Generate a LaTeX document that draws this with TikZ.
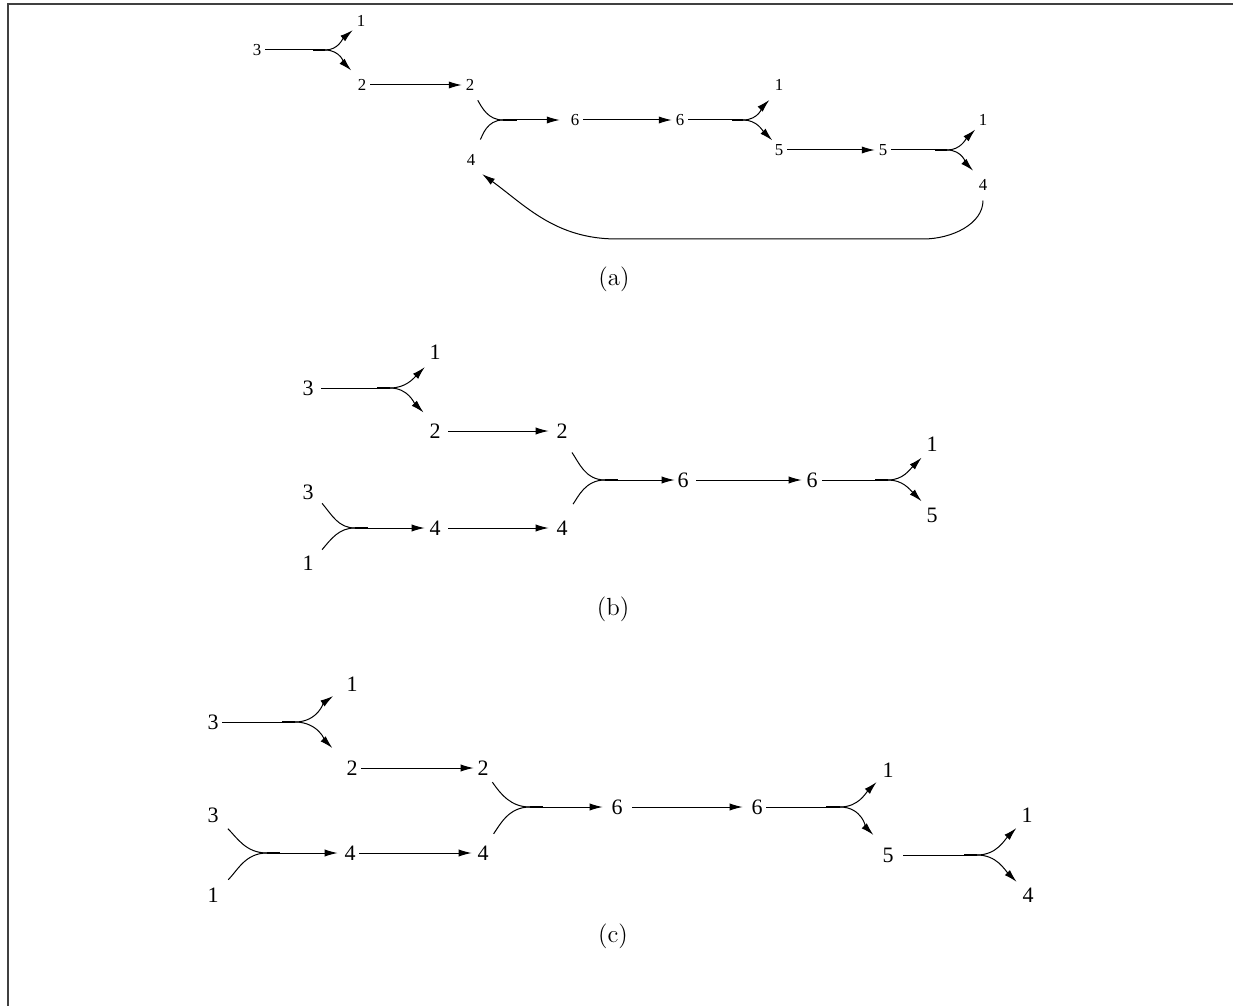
\documentclass[tikz,border=0pt]{standalone}
\usepackage{fontspec}
\newfontfamily\tnr{Liberation Serif}
\usetikzlibrary{arrows.meta}
\begin{document}
\begin{tikzpicture}[x=0.5pt,y=0.5pt,
  lab/.style={font=\tnr\fontsize{8.4}{10}\selectfont, inner sep=1.8pt},
  labB/.style={font=\tnr\fontsize{11}{13}\selectfont, inner sep=3.7pt},
  labC/.style={font=\tnr\fontsize{11}{13}\selectfont, inner sep=1.7pt},
  ln/.style={line width=0.5pt},
  stem/.style={line width=0.85pt},
  arr/.style={ln,-{Latex[length=6.5pt,width=3.6pt]}},
  captxt/.style={font=\fontsize{12.4}{14}\selectfont, inner sep=0pt}]
\useasboundingbox (0,0) rectangle (1233,-1006);
\draw[line width=1pt, black!75] (7.5,-1006) -- (7.5,-4.5) -- (1233,-4.5);

% ---------------- (a)
\node[lab] (a3) at (257,-50) {3};
\node[lab] (a1) at (361,-21) {1};
\node[lab] (a2) at (362,-85) {2};
\node[lab] (a2b) at (470,-85) {2};
\node[lab] (a4) at (471,-160) {4};
\node[lab] (a6) at (575,-120) {6};
\node[lab] (a6b) at (680,-120) {6};
\node[lab] (a1b) at (779,-85) {1};
\node[lab] (a5) at (779,-150) {5};
\node[lab] (a5b) at (883,-150) {5};
\node[lab] (a1c) at (983,-120) {1};
\node[lab] (a4b) at (983,-185) {4};
\coordinate (af1) at (325,-50);
\coordinate (am) at (503,-120);
\coordinate (af2) at (743,-120);
\coordinate (af3) at (947,-150);
\coordinate (aL) at (617,-239);
\coordinate (aR) at (923,-239);

\draw[ln] (a3) -- (af1);
\draw[stem] (af1) -- ++(-12,0);
\draw[arr] (af1) to[out=0,in=220] (a1.228);
\draw[arr, shorten >=3.5pt] (af1) to[out=0,in=135] (a2.121);
\draw[arr] (a2) -- (a2b);
\draw[ln, shorten <=3.3pt] (a2b.-65) to[out=-60,in=180] (am);
\draw[ln, shorten <=6.3pt] (a4.72) to[out=60,in=180] (am);
\draw[stem] (am) -- ++(14,0);
\draw[arr, shorten >=3.5pt] (am) -- (a6);
\draw[arr] (a6) -- (a6b);
\draw[ln] (a6b) -- (af2);
\draw[stem] (af2) -- ++(-11,0);
\draw[arr, shorten >=3.8pt] (af2) to[out=0,in=225] (a1b.246);
\draw[arr] (af2) to[out=0,in=135] (a5.125);
\draw[arr] (a5) -- (a5b);
\draw[ln] (a5b) -- (af3);
\draw[stem] (af3) -- ++(-12,0);
\draw[arr] (af3) to[out=0,in=225] (a1c.231);
\draw[arr, shorten >=3.4pt] (af3) to[out=0,in=135] (a4b.118);
\draw[arr, shorten <=3pt, shorten >=3.9pt] (a4b.south) to[out=-90,in=0] (aR) -- (aL) to[out=180,in=-36] (a4.-63);
\node[captxt] (capa) at (614,-279) {(a)};

% ---------------- (b)
\node[labB] (b3) at (308,-388) {3};
\node[labB] (b1) at (435,-352) {1};
\node[labB] (b2) at (435,-431) {2};
\node[labB] (b2b) at (562,-431) {2};
\node[labB] (b3l) at (308,-492) {3};
\node[labB] (b1l) at (308,-563) {1};
\node[labB] (b4) at (435,-528) {4};
\node[labB] (b4b) at (562,-528) {4};
\node[labB] (b6) at (683,-480) {6};
\node[labB] (b6b) at (812,-480) {6};
\node[labB] (b1b) at (932,-444) {1};
\node[labB] (b5) at (932,-515) {5};
\coordinate (bf1) at (390,-388);
\coordinate (bm2) at (355,-528);
\coordinate (bm) at (605,-480);
\coordinate (bf2) at (888,-480);

\draw[ln] (b3) -- (bf1);
\draw[stem] (bf1) -- ++(-13,0);
\draw[arr] (bf1) to[out=0,in=225] (b1.236);
\draw[arr, shorten >=2.4pt] (bf1) to[out=0,in=135] (b2.118);
\draw[arr] (b2) -- (b2b);
\draw[ln, shorten <=0.6pt] (b3l.-38) to[out=-50,in=180] (bm2);
\draw[ln, shorten <=0.6pt] (b1l.43) to[out=50,in=180] (bm2);
\draw[stem] (bm2) -- ++(13,0);
\draw[arr, shorten >=-1.5pt] (bm2) -- (b4);
\draw[arr] (b4) -- (b4b);
\draw[ln, shorten <=3.9pt] (b2b.-70) to[out=-55,in=180] (bm);
\draw[ln, shorten <=5.4pt] (b4b.72) to[out=55,in=180] (bm);
\draw[stem] (bm) -- ++(13,0);
\draw[arr, shorten >=-2.5pt] (bm) -- (b6);
\draw[arr, shorten >=-1.5pt] (b6) -- (b6b);
\draw[ln, shorten <=-1.5pt] (b6b) -- (bf2);
\draw[stem] (bf2) -- ++(-13,0);
\draw[arr, shorten >=-1pt] (bf2) to[out=0,in=225] (b1b.232);
\draw[arr, shorten >=-1pt] (bf2) to[out=0,in=135] (b5.128);
\node[captxt] (capb) at (613,-609) {(b)};

% ---------------- (c)
\node[labC] (c3) at (213,-722) {3};
\node[labC] (c1) at (352,-684) {1};
\node[labC] (c2) at (352,-768) {2};
\node[labC] (c2b) at (483,-768) {2};
\node[labC] (c3l) at (213,-815) {3};
\node[labC] (c1l) at (213,-895) {1};
\node[labC] (c4) at (350,-853) {4};
\node[labC] (c4b) at (483,-853) {4};
\node[labC] (c6) at (617,-807) {6};
\node[labC] (c6b) at (757,-807) {6};
\node[labC] (c1b) at (888,-770) {1};
\node[labC] (c5) at (888,-855) {5};
\node[labC] (c1c) at (1027,-815) {1};
\node[labC] (c4c) at (1028,-895) {4};
\coordinate (cf1) at (295,-722);
\coordinate (cm2) at (267,-853);
\coordinate (cm) at (530,-807);
\coordinate (cf2) at (840,-807);
\coordinate (cf3) at (977,-855);

\draw[ln] (c3) -- (cf1);
\draw[stem] (cf1) -- ++(-13,0);
\draw[arr, shorten >=5.8pt] (cf1) to[out=0,in=215] (c1.210);
\draw[arr, shorten >=7.3pt] (cf1) to[out=0,in=135] (c2.134);
\draw[arr] (c2) -- (c2b);
\draw[ln, shorten <=4pt] (c3l.-41) to[out=-45,in=180] (cm2);
\draw[ln, shorten <=4.2pt] (c1l.45) to[out=45,in=180] (cm2);
\draw[stem] (cm2) -- ++(13,0);
\draw[arr, shorten >=1.5pt] (cm2) -- (c4);
\draw[arr, shorten >=1pt] (c4) -- (c4b);
\draw[ln, shorten <=1.9pt] (c2b.-57) to[out=-55,in=180] (cm);
\draw[ln, shorten <=5pt] (c4b.66) to[out=55,in=180] (cm);
\draw[stem] (cm) -- ++(13,0);
\draw[arr, shorten >=2.5pt] (cm) -- (c6);
\draw[arr, shorten <=3pt, shorten >=2.5pt] (c6) -- (c6b);
\draw[ln] (c6b) -- (cf2);
\draw[stem] (cf2) -- ++(-14,0);
\draw[arr, shorten >=1.5pt] (cf2) to[out=0,in=225] (c1b.227);
\draw[arr, shorten >=6.3pt] (cf2) to[out=0,in=135] (c5.117);
\draw[ln, shorten <=3pt] (c5) -- (cf3);
\draw[stem] (cf3) -- ++(-13,0);
\draw[arr, shorten >=1.4pt] (cf3) to[out=0,in=225] (c1c.232);
\draw[arr, shorten >=1.5pt] (cf3) to[out=0,in=135] (c4c.130);
\node[captxt] (capc) at (613,-936) {(c)};
\end{tikzpicture}
\end{document}
